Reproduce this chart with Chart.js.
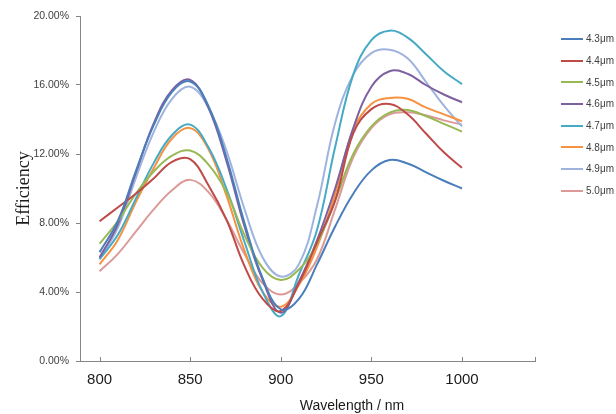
<!DOCTYPE html>
<html>
<head>
<meta charset="utf-8">
<script src="https://cdn.jsdelivr.net/npm/chart.js@4"></script>
<style>
  body { margin: 0; background: #fff; }
  #wrap { position: relative; width: 616px; height: 414px; }
  #legend { position: absolute; left: 561px; top: 28px; font: 10px "Liberation Sans", Arial, sans-serif; color: #404040; white-space: nowrap; }
  .row { display: flex; align-items: center; height: 21.7px; }
  .sw { width: 22px; height: 2px; margin-right: 3px; }
</style>
</head>
<body>
<div id="wrap">
  <canvas id="c" width="616" height="414"></canvas>
  <div id="legend"></div>
</div>
<script>
// ---- data ----
const wavelengths = [800, 810, 820, 830, 840, 850, 860, 870, 880, 890, 900, 910, 920, 930, 940, 950, 960, 970, 980, 990, 1000];
const seriesLabels = ['4.3\u03bcm', '4.4\u03bcm', '4.5\u03bcm', '4.6\u03bcm', '4.7\u03bcm', '4.8\u03bcm', '4.9\u03bcm', '5.0\u03bcm'];
const s43 = [6.3, 8.1, 11.0, 13.7, 15.6, 16.2, 14.8, 11.8, 8.0, 4.8, 3.0, 3.6, 5.6, 7.8, 9.7, 11.05, 11.65, 11.45, 10.95, 10.45, 10.0];
const s44 = [8.1, 8.9, 9.7, 10.6, 11.55, 11.7, 10.2, 8.2, 5.5, 3.6, 2.9, 4.5, 6.9, 9.3, 13.2, 14.6, 14.9, 14.3, 13.2, 12.1, 11.2];
const s45 = [6.8, 8.1, 9.7, 11.0, 11.9, 12.2, 11.4, 9.8, 7.3, 5.4, 4.7, 5.3, 6.8, 9.3, 12.0, 13.6, 14.4, 14.55, 14.2, 13.75, 13.3];
const s46 = [6.0, 7.9, 10.9, 13.8, 15.7, 16.3, 14.7, 11.6, 7.8, 4.7, 2.8, 4.6, 7.0, 10.0, 13.5, 15.9, 16.8, 16.65, 16.0, 15.45, 15.0];
const s47 = [5.9, 7.3, 9.4, 11.5, 13.1, 13.7, 12.4, 10.0, 6.9, 4.0, 2.6, 5.0, 7.6, 12.4, 16.6, 18.6, 19.15, 18.75, 17.8, 16.8, 16.05];
const s48 = [5.6, 7.0, 9.2, 11.2, 12.9, 13.5, 12.3, 9.6, 6.4, 4.0, 3.15, 4.4, 6.6, 9.7, 13.4, 14.9, 15.25, 15.2, 14.7, 14.3, 13.9];
const s49 = [5.9, 7.7, 10.6, 13.3, 15.2, 15.9, 14.7, 12.2, 8.8, 6.0, 4.9, 5.6, 9.0, 13.8, 16.6, 17.85, 18.05, 17.55, 16.2, 14.8, 13.6];
const s50 = [5.2, 6.2, 7.5, 8.8, 9.9, 10.5, 9.8, 8.2, 6.2, 4.5, 3.85, 4.5, 5.9, 8.8, 11.8, 13.5, 14.3, 14.42, 14.25, 13.95, 13.7];
const xTickValues = [800, 850, 900, 950, 1000];
const yTickValues = [0, 4, 8, 12, 16, 20];

const seriesValues = [s43, s44, s45, s46, s47, s48, s49, s50];
const colors = ['#4A7EBB', '#BE4B48', '#98B954', '#7D60A0', '#46AAC5', '#F69240', '#9FB3DE', '#DB9A98'];

const datasets = seriesValues.map((vals, i) => ({
  label: seriesLabels[i],
  data: vals.map((v, j) => ({ x: wavelengths[j], y: v })),
  borderColor: colors[i],
  backgroundColor: colors[i],
  borderWidth: 2,
  pointRadius: 0,
  tension: 0.4,
  fill: false
}));

const extras = {
  id: 'extras',
  afterDraw(chart) {
    const ctx = chart.ctx;
    const xs = chart.scales.x;
    const area = chart.chartArea;
    ctx.save();
    ctx.strokeStyle = '#868686';
    ctx.lineWidth = 1;
    const marks = xTickValues.concat([xs.max]);
    marks.forEach(v => {
      const px = Math.round(xs.getPixelForValue(v)) + 0.5;
      ctx.beginPath();
      ctx.moveTo(px, area.bottom);
      ctx.lineTo(px, area.bottom - 4);
      ctx.stroke();
    });
    ctx.fillStyle = '#1a1a1a';
    ctx.font = '14px "Liberation Sans", Arial, sans-serif';
    ctx.textAlign = 'center';
    ctx.textBaseline = 'middle';
    ctx.fillText('Wavelength / nm', 352, 406);
    ctx.translate(24, (area.top + area.bottom) / 2);
    ctx.rotate(-Math.PI / 2);
    ctx.font = '18px "Liberation Serif", "Times New Roman", serif';
    ctx.fillText('Efficiency', 0, 0);
    ctx.restore();
  }
};

new Chart(document.getElementById('c'), {
  type: 'line',
  data: { datasets },
  plugins: [extras],
  options: {
    responsive: false,
    animation: false,
    devicePixelRatio: 1,
    layout: { padding: { left: 0, right: 81, top: 16, bottom: 0 } },
    plugins: { legend: { display: false }, tooltip: { enabled: false } },
    scales: {
      x: {
        type: 'linear',
        min: 789.2,
        max: 1040.3,
        afterFit: s => { s.height = 53; },
        afterBuildTicks: s => { s.ticks = xTickValues.map(v => ({ value: v })); },
        grid: { display: false, drawTicks: false },
        border: { display: true, color: '#868686', width: 1 },
        ticks: {
          autoSkip: false, maxRotation: 0, padding: 10,
          color: '#1a1a1a',
          font: { family: '"Liberation Sans", Arial, sans-serif', size: 15 },
          callback: v => String(v)
        }
      },
      y: {
        min: 0,
        max: 20,
        afterFit: s => { s.width = 80; },
        afterBuildTicks: s => { s.ticks = yTickValues.map(v => ({ value: v })); },
        grid: { display: true, drawOnChartArea: false, drawTicks: true, tickLength: 4, color: '#868686' },
        border: { display: true, color: '#868686', width: 1 },
        ticks: {
          padding: 7,
          color: '#404040',
          font: { family: '"Liberation Sans", Arial, sans-serif', size: 10.5 },
          callback: v => v.toFixed(2) + '%'
        }
      }
    }
  }
});

const leg = document.getElementById('legend');
seriesLabels.forEach((lab, i) => {
  const row = document.createElement('div');
  row.className = 'row';
  const sw = document.createElement('div');
  sw.className = 'sw';
  sw.style.background = colors[i];
  const t = document.createElement('span');
  t.textContent = lab;
  row.appendChild(sw);
  row.appendChild(t);
  leg.appendChild(row);
});
</script>
</body>
</html>
